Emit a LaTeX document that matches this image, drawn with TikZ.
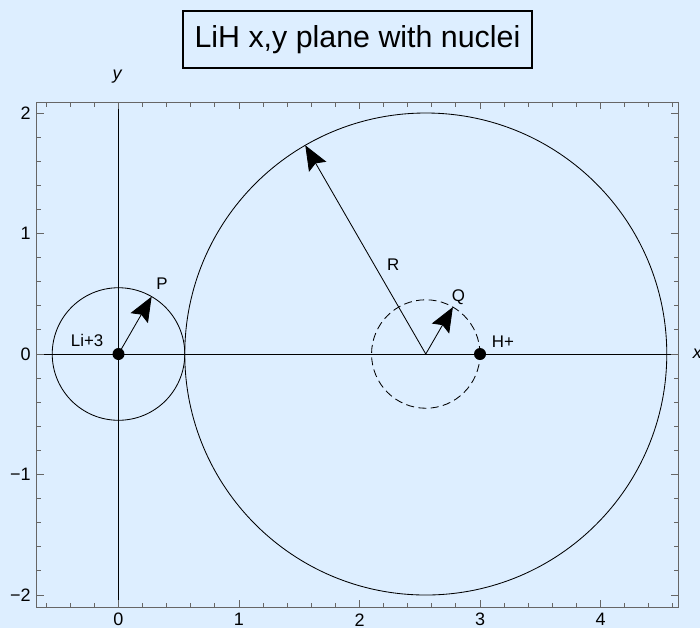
\documentclass[tikz,border=0pt]{standalone}
\usepackage{fontspec}
\setmainfont{Liberation Sans}
\usepackage{tikz}
\usetikzlibrary{arrows.meta}
\definecolor{panebg}{RGB}{221,238,255}
\definecolor{framegray}{RGB}{102,102,102}

\begin{document}
\begin{tikzpicture}[x=3.0125cm, y=3.0125cm,
  curve/.style={line width=0.6pt},
  arr/.style={-{Stealth[length=6.2mm, width=5mm, inset=1mm]}, line width=0.6pt},
  nuc/.style={circle, fill, inner sep=0pt, minimum size=3mm},
  lab/.style={font=\fontsize{12}{14}\selectfont, inner sep=0pt},
  ticklab/.style={font=\fontsize{12.8}{15}\selectfont, inner sep=0pt}]
\fill[panebg] (-0.9834,-2.2739) rectangle (4.8257,2.9378);
\useasboundingbox (-0.9834,-2.2739) rectangle (4.8257,2.9378);
% title
\node[draw, line width=0.8pt, minimum width=8.725cm, minimum height=1.425cm,
  font=\fontsize{21.6}{26}\selectfont] (title) at (1.983,2.61) {LiH x,y plane with nuclei};
% axes through the origin
\draw[curve] (-0.68,0) -- (4.646,0);
\draw[curve] (0,-2.10) -- (0,2.09);
% frame and ticks
\foreach \i in {-3,...,23}
  \draw[framegray, line width=0.7pt] (\i/5,-2.10) -- ++(0,0.11cm) (\i/5,2.09) -- ++(0,-0.11cm);
\foreach \i in {-10,...,10}
  \draw[framegray, line width=0.7pt] (-0.68,\i/5) -- ++(0.11cm,0) (4.646,\i/5) -- ++(-0.11cm,0);
\foreach \x in {0,...,4} {
  \draw[framegray, line width=0.7pt] (\x,-2.10) -- ++(0,0.175cm) (\x,2.09) -- ++(0,-0.175cm);
  \node[ticklab] (xt\x) at (\x,-2.205) {\x};
}
\foreach \y/\t in {-2/−2,-1/−1,0/0,1/1,2/2} {
  \draw[framegray, line width=0.7pt] (-0.68,\y) -- ++(0.175cm,0) (4.646,\y) -- ++(-0.175cm,0);
  \node[ticklab, anchor=east] (yt\t) at (-0.726,\y) {\t};
}
\draw[framegray, line width=0.8pt] (-0.68,-2.10) rectangle (4.646,2.09);
\node[ticklab, font=\fontsize{12.8}{15}\selectfont\itshape] (ylab) at (-0.012,2.30) {y};
\node[ticklab, font=\fontsize{12.8}{15}\selectfont\itshape, anchor=west] (xlab) at (4.765,0) {x};
% nuclei and the spheres round them
\node[nuc] (li) at (0,0) {};
\node[nuc] (h) at (3,0) {};
\coordinate (cen) at (2.55,0);
\draw[curve] (li.center) circle[radius=0.55];
\draw[curve] (cen) circle[radius=2];
\draw[curve, dash pattern=on 2mm off 1.1mm] (cen) circle[radius=0.45];
\coordinate (ptip) at (60:0.55);
\coordinate (qtip) at (2.775,0.3897);
\coordinate (rtip) at (1.55,1.7321);
\draw[arr] (li.center) -- (ptip);
\draw[arr] (cen) -- (qtip);
\draw[arr] (cen) -- (rtip);
\node[lab] (lilab) at (-0.26,0.11) {Li+3};
\node[lab] (hlab) at (3.19,0.10) {H+};
\node[lab] (plab) at (0.36,0.58) {P};
\node[lab] (qlab) at (2.82,0.47) {Q};
\node[lab] (rlab) at (2.28,0.74) {R};
\end{tikzpicture}
\end{document}
